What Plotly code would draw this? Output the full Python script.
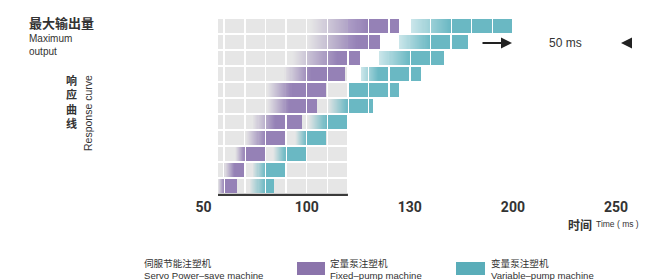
import plotly.graph_objects as go

# ---------------- data (column units of the time grid), rows listed top -> bottom
row_pos = [11, 10, 9, 8, 7, 6, 5, 4, 3, 2, 1]
purple_fade_start = [5.2, 5.05, 4.3, 3.9, 3.1, 3.1, 2.4, 2.07, 1.55, 1.0, 0.7]
purple_full = [8.0, 7.5, 6.5, 5.2, 4.3, 4.2, 3.5, 3.0, 2.0, 1.5, 1.0]
purple_end = [9.47, 8.55, 7.6, 6.85, 5.95, 5.5, 4.75, 4.0, 3.0, 2.0, 1.6]
teal_fade_start = [10.1, 9.5, 8.55, 7.65, 7.05, 6.0, 5.1, 4.45, 3.4, 2.4, 2.25]
teal_full = [12.0, 11.0, 10.0, 8.5, 7.05, 7.0, 6.0, 5.0, 4.0, 3.0, 3.0]
teal_end = [15.0, 12.8, 11.67, 10.55, 9.47, 8.2, 7.0, 5.95, 5.0, 4.0, 3.4]
grid_extent = [0.7, 7.0]
n_columns = 15
tick_pos = [0, 5, 10, 15, 20]
tick_text = ["50", "100", "130", "200", "250"]
legend_labels = ["伺服节能注塑机<br>Servo Power–save machine",
                 "定量泵注塑机<br>Fixed–pump machine",
                 "变量泵注塑机<br>Variable–pump machine"]

# ---------------- styles
OFF = 8                      # default page margin of the html body
W, H = 649 - OFF, 280 - OFF
GRAY = (230, 230, 230)
WHITE = (255, 255, 255)
PURPLE = (149, 129, 182)
TEAL = (106, 184, 195)
GAP = 0.075
STEP = 0.05
TXT = "#333333"


def blend(a, b, f):
    return tuple(int(round(a[i] + (b[i] - a[i]) * f)) for i in range(3))


def color_at(u, i):
    base = GRAY if u < grid_extent[1] else None
    for s, f_, e, col in ((purple_fade_start[i], purple_full[i], purple_end[i], PURPLE),
                          (teal_fade_start[i], teal_full[i], teal_end[i], TEAL)):
        if s <= u < e:
            frac = 1.0 if f_ <= s else min(1.0, max(0.0, (u - s) / (f_ - s)))
            if base is None:
                frac = 0.35 + 0.65 * frac
                return blend(WHITE, col, frac)
            return blend(base, col, frac)
    return base


bx, bbase, by, bcol = [], [], [], []
for i, yv in enumerate(row_pos):
    keys = [purple_fade_start[i], purple_full[i], purple_end[i],
            teal_fade_start[i], teal_full[i], teal_end[i]]
    for k in range(n_columns):
        a = max(k, grid_extent[0]) + (GAP / 2 if k >= 1 else 0)
        b = k + 1 - GAP / 2
        pts = [a]
        t = a + STEP
        while t < b - 1e-6:
            pts.append(t)
            t += STEP
        pts += [p for p in keys if a < p < b]
        pts.append(b)
        pts = sorted(set(round(p, 5) for p in pts))
        segs = []
        for p0, p1 in zip(pts[:-1], pts[1:]):
            c = color_at((p0 + p1) / 2, i)
            if segs and segs[-1][2] == c and abs(segs[-1][1] - p0) < 1e-6:
                segs[-1][1] = p1
            else:
                segs.append([p0, p1, c])
        for p0, p1, c in segs:
            if c is None:
                continue
            bbase.append(p0)
            bx.append(p1 - p0)
            by.append(yv)
            bcol.append("rgb(%d,%d,%d)" % c)

fig = go.Figure()
fig.add_trace(go.Bar(orientation="h", x=bx, base=bbase, y=by, width=0.875,
                     marker=dict(color=bcol, line=dict(width=0)),
                     hoverinfo="skip", showlegend=False))
# baseline under the grid
fig.add_trace(go.Scatter(x=grid_extent, y=[0.44, 0.44], mode="lines",
                         line=dict(color="#3a3a3a", width=2.2),
                         hoverinfo="skip", showlegend=False))

# pixel mapping (reference pixels): x px = 203.6 + 20.62*u ; row y=1 centre at px 186, 16 px per row
ux = 20.62
x0px = 203.6 - OFF
xr = [(0 - x0px) / ux, (W - x0px) / ux]
plot_bottom = 197 - OFF
row1_c = 186 - OFF
yr = [1 - (plot_bottom - row1_c) / 16, 1 + row1_c / 16]


def px(x):
    return (x - OFF) / W


def py(y):
    return 1 - (y - OFF) / H


fig.update_layout(
    width=W, height=H, margin=dict(l=0, r=0, t=0, b=0),
    paper_bgcolor="white", plot_bgcolor="white",
    barmode="overlay", bargap=0,
    xaxis=dict(range=xr, domain=[0, 1], showgrid=False, zeroline=False, showline=False,
               tickmode="array", tickvals=tick_pos, ticktext=tick_text, ticks="",
               tickfont=dict(family="Roboto", size=14, weight="bold", color=TXT)),
    yaxis=dict(range=yr, domain=[1 - plot_bottom / H, 1], showgrid=False, zeroline=False,
               showline=False, showticklabels=False),
    showlegend=False,
)

ann = []


def text(x, y, s, size, bold=False, family="Liberation Sans", xanchor="left", angle=0,
         color=TXT, align="left"):
    ann.append(dict(x=px(x), y=py(y), xref="paper", yref="paper", text=s, showarrow=False,
                    xanchor=xanchor, yanchor="middle", textangle=angle, align=align,
                    font=dict(size=size, family=family, color=color,
                              weight="bold" if bold else "normal")))


CJK = "Noto Sans CJK SC"
text(27, 22, "最大输出量", 13, bold=True, family=CJK)
text(27, 38, "Maximum", 10)
text(27, 51, "output", 10)
text(71, 101, "响<br>应<br>曲<br>线", 11, bold=True, family=CJK, xanchor="center")
text(88, 113, "Response curve", 10.5, xanchor="center", angle=-90)
text(566, 224, "时间", 12, bold=True, family=CJK)
text(594, 224, "Time ( ms )", 8.5)
text(565, 43, "50 ms", 12, xanchor="center")

LEG_FONT = "Liberation Sans, Noto Sans CJK SC"
for lx, lab in zip([142, 328, 489], legend_labels):
    text(lx, 269.5, lab, 9.6, family=LEG_FONT)

# arrows
ann.append(dict(x=px(512), y=py(43), xref="paper", yref="paper", ax=-31, ay=0,
                showarrow=True, arrowhead=2, arrowsize=1.1, font=dict(size=1),
                arrowwidth=2, arrowcolor="#222222", text=""))
ann.append(dict(x=px(621), y=py(43), xref="paper", yref="paper", ax=11, ay=0,
                showarrow=True, arrowhead=2, arrowsize=1.1, arrowwidth=2, font=dict(size=1),
                arrowcolor="#222222", text=""))
fig.update_layout(annotations=ann)

# legend swatches
fig.add_shape(type="rect", xref="paper", yref="paper", x0=px(297), x1=px(325), y0=py(275), y1=py(262),
              fillcolor="#8b74ab", line=dict(width=0))
fig.add_shape(type="rect", xref="paper", yref="paper", x0=px(456), x1=px(485), y0=py(275), y1=py(262),
              fillcolor="#5aadb9", line=dict(width=0))

fig.write_html("out.html")
